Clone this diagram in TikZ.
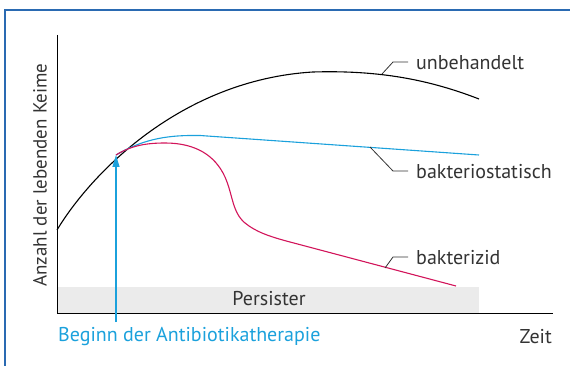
\documentclass[tikz,border=0pt]{standalone}
\usepackage{fontspec}
\setmainfont{PT Sans}
\usetikzlibrary{arrows.meta}
\definecolor{frameblue}{HTML}{2A6AB2}
\definecolor{cyanline}{HTML}{1BA1DC}
\definecolor{redline}{HTML}{D2145A}
\definecolor{txt}{HTML}{333333}
\definecolor{persgray}{HTML}{EBEBEB}
\tikzset{
  lbl/.style={inner sep=0pt, text=txt, font=\fontsize{20}{24}\selectfont},
  leader/.style={draw=txt, line width=0.8pt},
  curve/.style={line width=1.1pt}
}
\begin{document}
\begin{tikzpicture}[x=1pt,y=-1pt]
\useasboundingbox (0,0) rectangle (570,366);
% frame
\draw[frameblue, line width=2pt] (5,366) -- (5,10) -- (570,10);
% persister band
\fill[persgray] (57,287) rectangle (479,313.5);
\node[lbl] (pers) at (269,299) {Persister};
% axes
\coordinate (orig) at (57,313.5);
\coordinate (ytop) at (57,35);
\coordinate (xend) at (553,313.5);
\draw[black, line width=1pt] (ytop) -- (orig) -- (xend);
% curves
\draw[curve, black] (57,230) .. controls (90,175) and (180,80) .. (313,72) .. controls (380,70) and (430,80) .. (479,99);
\draw[curve, cyanline] (116,155) .. controls (145,138) and (170,135) .. (200,135.5) -- (479,155);
\draw[curve, redline] (116,155) .. controls (132,145) and (148,143) .. (165,143) .. controls (195,143) and (215,155) .. (225,177) .. controls (233,195) and (232,212) .. (245,223) .. controls (256,232) and (270,236.7) .. (290,242) -- (456,286);
% arrow
\coordinate (arrbot) at (116,322);
\coordinate (arrtop) at (116,155);
\draw[cyanline, line width=1.1pt, -{Triangle[length=12pt,width=7pt]}] (arrbot) -- (arrtop);
% labels
\node[lbl, anchor=west] (unb) at (416,63) {unbehandelt};
\node[lbl, anchor=west] (bst) at (416,172) {bakteriostatisch};
\node[lbl, anchor=west] (bzd) at (416,258) {bakterizid};
\coordinate (l1) at (382,74);
\coordinate (l2) at (370,147);
\coordinate (l3) at (385,268);
\draw[leader] (l1) -- (393,62) -- ([xshift=-8pt]unb.west |- 0,62);
\draw[leader] (l2) -- (393,171) -- ([xshift=-8pt]bst.west |- 0,171);
\draw[leader] (l3) -- (393,257) -- ([xshift=-8pt]bzd.west |- 0,257);
\node[lbl, text=cyanline, anchor=west] (beginn) at (58,337) {Beginn der Antibiotikatherapie};
\node[lbl, anchor=east] (zeit) at (552,337) {Zeit};
\node[lbl, rotate=90, font=\fontsize{19}{22}\selectfont] (ylab) at (40,175) {Anzahl der lebenden Keime};
\end{tikzpicture}
\end{document}
